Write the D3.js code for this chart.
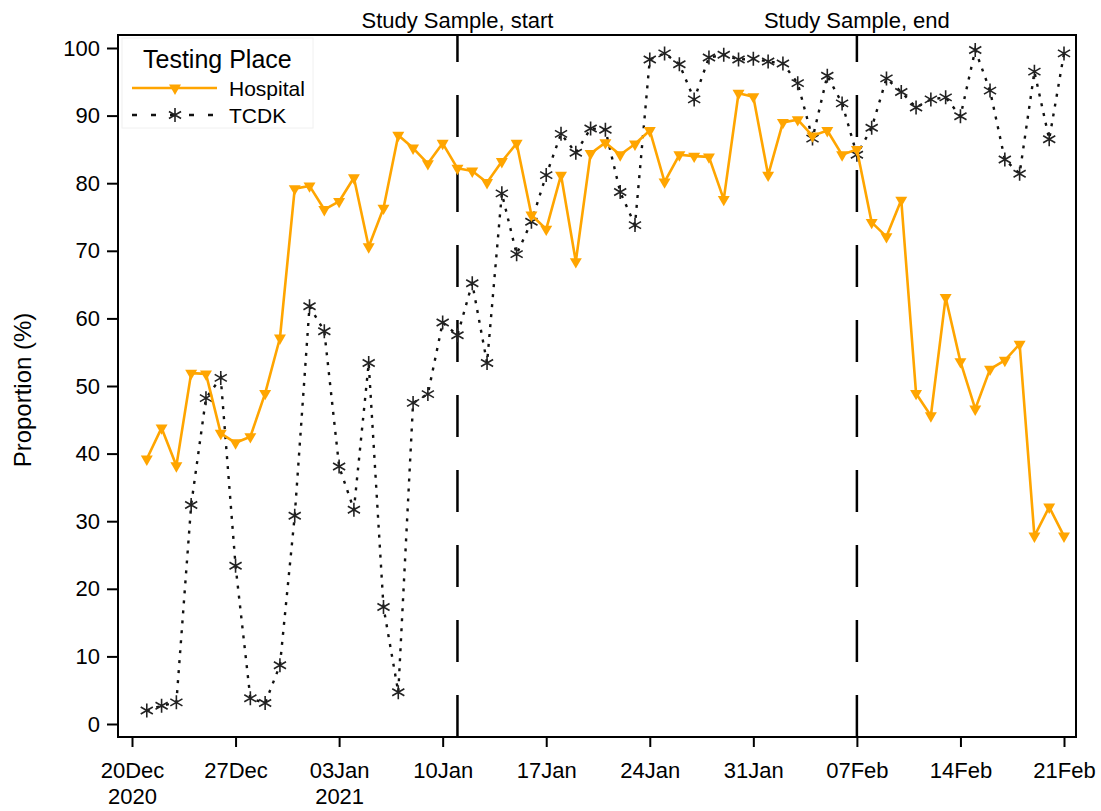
<!DOCTYPE html>
<html>
<head>
<meta charset="utf-8">
<script src="https://cdn.jsdelivr.net/npm/d3@7"></script>
<style>
  body { margin: 0; background: #fff; }
  svg { display: block; font-family: "Liberation Sans", Arial, sans-serif; }
</style>
</head>
<body>
<svg id="chart" width="1101" height="811"></svg>
<script>
// Daily share of positive tests by testing place, 21 Dec 2020 – 21 Feb 2021
const firstDay = "2020-12-21";
const hospital = [39.2, 43.8, 38.2, 51.9, 51.8, 43.0, 41.6, 42.5, 48.9, 57.1,
  79.2, 79.6, 76.1, 77.3, 80.8, 70.6, 76.3, 87.1, 85.2, 82.9,
  85.9, 82.2, 81.8, 80.1, 83.2, 85.9, 75.3, 73.2, 81.2, 68.4,
  84.4, 86.0, 84.2, 85.8, 87.8, 80.2, 84.2, 84.0, 83.9, 77.6,
  93.3, 92.8, 81.2, 89.0, 89.4, 87.0, 87.8, 84.2, 85.0, 74.2,
  72.1, 77.5, 48.9, 45.6, 63.1, 53.6, 46.6, 52.5, 53.8, 56.2,
  27.8, 32.1, 27.8];
const tcdk = [2.0, 2.7, 3.2, 32.4, 48.2, 51.2, 23.4, 3.8, 3.1, 8.7,
  30.8, 61.8, 58.1, 38.1, 31.7, 53.4, 17.3, 4.7, 47.5, 48.8,
  59.4, 57.5, 65.2, 53.4, 78.5, 69.5, 74.3, 81.2, 87.3, 84.5,
  88.1, 87.9, 78.7, 73.8, 98.3, 99.2, 97.6, 92.4, 98.6, 99.0,
  98.3, 98.4, 98.0, 97.7, 94.8, 86.6, 95.9, 91.8, 84.2, 88.2,
  95.5, 93.5, 91.2, 92.4, 92.7, 89.9, 99.7, 93.7, 83.5, 81.4,
  96.5, 86.5, 99.2];
const xTicks = ["2020-12-20", "2020-12-27", "2021-01-03", "2021-01-10", "2021-01-17",
  "2021-01-24", "2021-01-31", "2021-02-07", "2021-02-14", "2021-02-21"];
const yearLabelTicks = ["2020-12-20", "2021-01-03"];
const yTicks = [0, 10, 20, 30, 40, 50, 60, 70, 80, 90, 100];
const markerDates = ["2021-01-11", "2021-02-07"];
const markerLabels = ["Study Sample, start", "Study Sample, end"];
const seriesNames = ["Hospital", "TCDK"];
const legendTitle = "Testing Place";

const parse = d3.utcParse("%Y-%m-%d");
const start = parse(firstDay);
const dates = hospital.map((_, i) => d3.utcDay.offset(start, i));

const svg = d3.select("#chart");
const frame = { left: 118, right: 1076, top: 35, bottom: 737 };
const orange = "#FFA500";

const x = d3.scaleUtc()
  .domain([parse(xTicks[0]), parse(xTicks[xTicks.length - 1])])
  .range([132, 1064]);
const y = d3.scaleLinear().domain([0, 100]).range([724, 48]);

// plot frame
svg.append("rect")
  .attr("x", frame.left).attr("y", frame.top)
  .attr("width", frame.right - frame.left).attr("height", frame.bottom - frame.top)
  .attr("fill", "none").attr("stroke", "#000").attr("stroke-width", 2);

// x axis
const fmtDay = d3.utcFormat("%d%b");
const fmtKey = d3.utcFormat("%Y-%m-%d");
const xAxis = svg.append("g")
  .attr("transform", `translate(0,${frame.bottom})`)
  .call(d3.axisBottom(x).tickValues(xTicks.map(parse)).tickSize(10).tickFormat(fmtDay));
xAxis.select(".domain").remove();
xAxis.selectAll(".tick line").attr("stroke", "#000").attr("stroke-width", 2);
xAxis.selectAll(".tick text")
  .attr("fill", "#000").attr("font-size", 22).attr("y", 41).attr("dy", 0)
  .each(function (d) {
    if (yearLabelTicks.includes(fmtKey(d))) {
      const t = d3.select(this);
      const label = t.text();
      t.text(null);
      t.append("tspan").attr("x", 0).text(label);
      t.append("tspan").attr("x", 0).attr("dy", 26).text(d.getUTCFullYear());
    }
  });

// y axis
const yAxis = svg.append("g")
  .attr("transform", `translate(${frame.left},0)`)
  .call(d3.axisLeft(y).tickValues(yTicks).tickSize(11));
yAxis.select(".domain").remove();
yAxis.selectAll(".tick line").attr("stroke", "#000").attr("stroke-width", 2);
yAxis.selectAll(".tick text").attr("fill", "#000").attr("font-size", 22).attr("x", -18);

svg.append("text")
  .attr("transform", `translate(31,390) rotate(-90)`)
  .attr("text-anchor", "middle").attr("font-size", 24)
  .text("Proportion (%)");

// study window reference lines
markerDates.forEach((d, i) => {
  const xp = x(parse(d));
  svg.append("line")
    .attr("x1", xp).attr("x2", xp)
    .attr("y1", frame.bottom).attr("y2", frame.top)
    .attr("stroke", "#000").attr("stroke-width", 2.5)
    .attr("stroke-dasharray", "42,33");
  svg.append("text")
    .attr("x", xp).attr("y", 28)
    .attr("text-anchor", "middle").attr("font-size", 22)
    .text(markerLabels[i]);
});

// asterisk marker path (three crossing strokes)
function asterisk(r) {
  const a = Math.PI / 6;
  const dx = r * Math.cos(a), dy = r * Math.sin(a);
  return `M0,${-r}L0,${r}M${-dx},${-dy}L${dx},${dy}M${-dx},${dy}L${dx},${-dy}`;
}
const triangle = d3.symbol().type(d3.symbolTriangle).size(62);

// TCDK series
const line = d3.line().x((d, i) => x(dates[i])).y(d => y(d));
svg.append("path").datum(tcdk)
  .attr("d", line).attr("fill", "none")
  .attr("stroke", "#111").attr("stroke-width", 2.4)
  .attr("stroke-dasharray", "3,7");
svg.append("g").selectAll("path").data(tcdk).join("path")
  .attr("transform", (d, i) => `translate(${x(dates[i])},${y(d)})`)
  .attr("d", asterisk(7))
  .attr("fill", "none").attr("stroke", "#222").attr("stroke-width", 1.6);

// Hospital series
svg.append("path").datum(hospital)
  .attr("d", line).attr("fill", "none")
  .attr("stroke", orange).attr("stroke-width", 2.6)
  .attr("stroke-linejoin", "round");
svg.append("g").selectAll("path").data(hospital).join("path")
  .attr("transform", (d, i) => `translate(${x(dates[i])},${y(d)}) rotate(180)`)
  .attr("d", triangle)
  .attr("fill", orange);

// legend
const lg = svg.append("g");
lg.append("rect").attr("x", 122).attr("y", 38).attr("width", 191).attr("height", 90)
  .attr("fill", "#fff").attr("stroke", "#f0f0f0").attr("stroke-width", 1);
lg.append("text").attr("x", 143).attr("y", 68).attr("font-size", 25).text(legendTitle);
lg.append("line").attr("x1", 132).attr("x2", 217).attr("y1", 88).attr("y2", 88)
  .attr("stroke", orange).attr("stroke-width", 2.6);
lg.append("path").attr("transform", "translate(175,88) rotate(180)")
  .attr("d", triangle).attr("fill", orange);
lg.append("text").attr("x", 229).attr("y", 96).attr("font-size", 21).text(seriesNames[0]);
lg.append("line").attr("x1", 132).attr("x2", 217).attr("y1", 115).attr("y2", 115)
  .attr("stroke", "#111").attr("stroke-width", 2.4).attr("stroke-dasharray", "5,14");
lg.append("path").attr("transform", "translate(175,115)")
  .attr("d", asterisk(7)).attr("fill", "none").attr("stroke", "#222").attr("stroke-width", 1.6);
lg.append("text").attr("x", 229).attr("y", 123).attr("font-size", 21).text(seriesNames[1]);
</script>
</body>
</html>
